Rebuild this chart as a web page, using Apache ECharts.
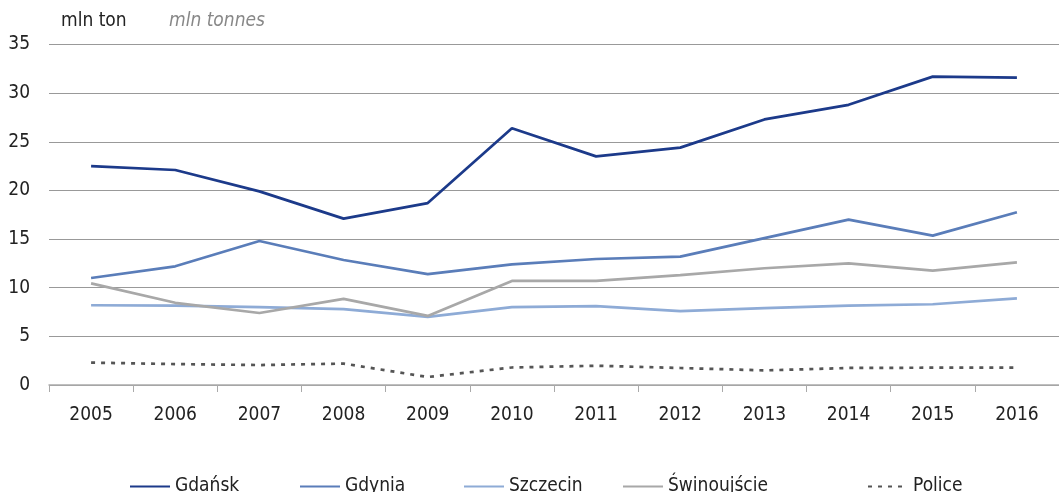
<!DOCTYPE html>
<html lang="pl">
<head>
<meta charset="utf-8">
<title>Przeładunki w portach</title>
<script src="https://cdn.jsdelivr.net/npm/echarts@6/dist/echarts.min.js"></script>
<style>
  html, body { margin: 0; padding: 0; background: #fff; }
  #chart { width: 1059px; height: 492px; }
</style>
</head>
<body>
<div id="chart"></div>
<script type="text/javascript">
// lata
var years = ['2005', '2006', '2007', '2008', '2009', '2010', '2011', '2012', '2013', '2014', '2015', '2016'];
// mln ton
var gdansk      = [22.5, 22.1, 19.9, 17.1, 18.7, 26.4, 23.5, 24.4, 27.3, 28.8, 31.7, 31.6];
var gdynia      = [11.0, 12.2, 14.8, 12.85, 11.4, 12.4, 12.95, 13.2, 15.1, 17.0, 15.35, 17.75];
var szczecin    = [8.2, 8.15, 8.0, 7.8, 7.0, 8.0, 8.1, 7.6, 7.9, 8.15, 8.3, 8.9];
var swinoujscie = [10.45, 8.45, 7.4, 8.85, 7.1, 10.7, 10.7, 11.3, 12.0, 12.5, 11.75, 12.6];
var police      = [2.3, 2.15, 2.05, 2.2, 0.82, 1.8, 1.98, 1.75, 1.5, 1.75, 1.78, 1.78];
var yTicks = [0, 5, 10, 15, 20, 25, 30, 35];

var FONT = "'Liberation Sans Narrow', 'DejaVu Sans Condensed', sans-serif";

var chart = echarts.init(document.getElementById('chart'));

function serie(name, data, color, type) {
  return {
    name: name,
    type: 'line',
    data: data,
    symbol: 'none',
    lineStyle: { color: color, width: 2.7, type: type || 'solid' },
    itemStyle: { color: color },
    emphasis: { disabled: true },
    z: 3
  };
}

function legendAt(name, left) {
  return {
    data: [name],
    left: left,
    top: 472,
    itemWidth: 40,
    itemHeight: 12,
    itemStyle: { opacity: 0 },
    textStyle: { fontFamily: FONT, fontSize: 19, color: '#222' },
    selectedMode: false
  };
}

var option = {
  animation: false,
  title: [
    { text: 'mln ton', left: 56, top: 7, textStyle: { fontFamily: FONT, fontSize: 19, fontWeight: 'normal', color: '#222' } },
    { text: 'mln tonnes', left: 164, top: 7, textStyle: { fontFamily: FONT, fontSize: 19, fontWeight: 'normal', fontStyle: 'italic', color: '#888' } }
  ],
  legend: [
    legendAt('Gdańsk', 124),
    legendAt('Gdynia', 294),
    legendAt('Szczecin', 458),
    legendAt('Świnoujście', 617),
    legendAt('Police', 862)
  ],
  grid: { left: 49, right: 0, top: 44.5, bottom: 107 },
  xAxis: {
    type: 'category',
    data: years,
    boundaryGap: true,
    axisLine: { lineStyle: { color: '#aaa', width: 1.5 } },
    axisTick: { show: true, length: 7, lineStyle: { color: '#aaa' } },
    axisLabel: { fontFamily: FONT, fontSize: 19, color: '#222', margin: 21 },
    splitLine: { show: false }
  },
  yAxis: {
    type: 'value',
    min: yTicks[0],
    max: yTicks[yTicks.length - 1],
    interval: 5,
    axisLine: { show: false },
    axisTick: { show: false },
    axisLabel: { fontFamily: FONT, fontSize: 19, color: '#222', margin: 19 },
    splitLine: { lineStyle: { color: '#999', width: 1 } }
  },
  series: [
    serie('Gdańsk', gdansk, '#1c3a8a'),
    serie('Gdynia', gdynia, '#5a7db9'),
    serie('Szczecin', szczecin, '#8eabd6'),
    serie('Świnoujście', swinoujscie, '#a8a8a8'),
    serie('Police', police, '#555555', [4, 6])
  ]
};

chart.setOption(option);
</script>
</body>
</html>
